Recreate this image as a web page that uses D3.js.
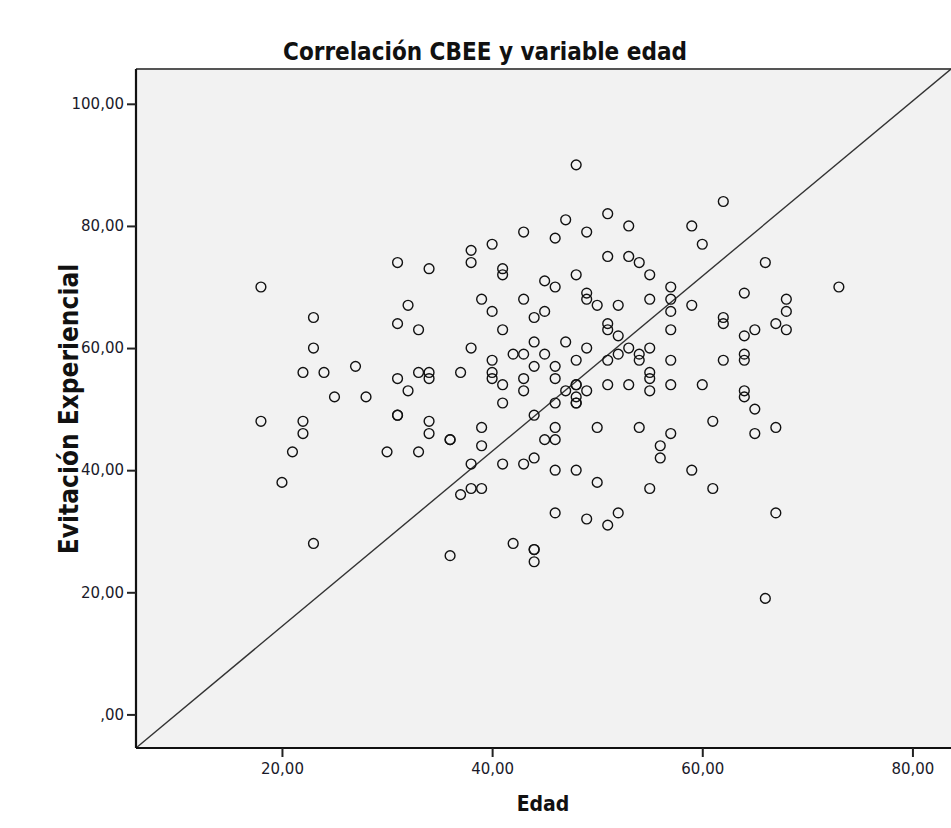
<!DOCTYPE html>
<html>
<head>
<meta charset="utf-8">
<script src="https://cdn.jsdelivr.net/npm/d3@7"></script>
<style>
  body { margin: 0; background: #fff; }
  .tick text { font-family: "DejaVu Sans", sans-serif; font-size: 15px; fill: #1a1a2a; }
  .lbl { font-family: "DejaVu Sans Condensed", "Liberation Sans Narrow", "DejaVu Sans", sans-serif; font-weight: bold; fill: #111; }
</style>
</head>
<body>
<svg id="chart"></svg>
<script>
// Edad (x) and Evitación Experiencial (y), one entry per respondent
var edad = [
  18, 23, 23, 22, 24, 27, 25, 28, 18, 22, 22, 31, 34, 32, 31, 33, 38, 38, 40, 41,
  41, 43, 45, 39, 40, 43, 44, 45, 41, 38, 44, 42, 43, 45, 40, 40, 40, 37, 44, 43,
  43, 41, 41, 33, 34, 34, 31, 32, 31, 31, 34, 34, 36, 36, 39, 39, 44, 45, 21, 30,
  33, 20, 23, 38, 41, 43, 44, 37, 38, 39, 36, 42, 44, 44, 44,
  48, 62, 51, 47, 53, 59, 46, 49, 60, 51, 53, 54, 55, 66, 48, 46, 57, 73, 49, 49,
  50, 52, 55, 57, 57, 59, 64, 68, 68, 62, 62, 67, 68, 65, 64, 51, 51, 52, 57, 47,
  49, 53, 55, 52, 54, 54, 46, 46, 48, 51, 57, 62, 64, 64, 48, 48, 47, 49, 48, 48,
  48, 51, 53, 55, 55, 55, 57, 60, 46, 46, 46, 50, 54, 57, 56, 61, 64, 64, 65, 65,
  67, 56, 46, 48, 50, 55, 59, 61, 46, 49, 51, 52, 67, 66
];
var evitacion = [
  70, 65, 60, 56, 56, 57, 52, 52, 48, 48, 46, 74, 73, 67, 64, 63, 76, 74, 77, 73,
  72, 79, 71, 68, 66, 68, 65, 66, 63, 60, 61, 59, 59, 59, 58, 56, 55, 56, 57, 55,
  53, 54, 51, 56, 56, 55, 55, 53, 49, 49, 48, 46, 45, 45, 47, 44, 49, 45, 43, 43,
  43, 38, 28, 41, 41, 41, 42, 36, 37, 37, 26, 28, 27, 27, 25,
  90, 84, 82, 81, 80, 80, 78, 79, 77, 75, 75, 74, 72, 74, 72, 70, 70, 70, 69, 68,
  67, 67, 68, 68, 66, 67, 69, 68, 66, 65, 64, 64, 63, 63, 62, 64, 63, 62, 63, 61,
  60, 60, 60, 59, 59, 58, 57, 55, 58, 58, 58, 58, 59, 58, 54, 54, 53, 53, 52, 51,
  51, 54, 54, 56, 55, 53, 54, 54, 51, 47, 45, 47, 47, 46, 44, 48, 53, 52, 50, 46,
  47, 42, 40, 40, 38, 37, 40, 37, 33, 32, 31, 33, 33, 19
];
var xTicks = [20, 40, 60, 80];
var yTicks = [0, 20, 40, 60, 80, 100];
var titulo = "Correlación CBEE y variable edad";
var xTitulo = "Edad";
var yTitulo = "Evitación Experiencial";

var width = 951, height = 828;
var mLeft = 136, mRight = 951, mTop = 69, mBottom = 748;

var svg = d3.select("#chart").attr("width", width).attr("height", height);

var x = d3.scaleLinear().domain([6.11, 83.67]).range([mLeft, mRight]);
var y = d3.scaleLinear().domain([-5.5, 105.7]).range([mBottom, mTop]);

// comma decimals, zero written as ",00" like SPSS does
function coma(v) {
  var s = v.toFixed(2).replace(".", ",");
  return v === 0 ? s.slice(1) : s;
}

// plot background
svg.append("rect")
  .attr("x", mLeft).attr("y", mTop)
  .attr("width", mRight - mLeft).attr("height", mBottom - mTop)
  .attr("fill", "#f2f2f2");

// top border
svg.append("line")
  .attr("x1", mLeft).attr("x2", mRight)
  .attr("y1", mTop).attr("y2", mTop)
  .attr("stroke", "#555").attr("stroke-width", 2);

// reference diagonal, corner to corner
var diag = [[x.domain()[0], y.domain()[0]], [x.domain()[1], y.domain()[1]]];
svg.append("path")
  .datum(diag)
  .attr("fill", "none")
  .attr("stroke", "#333")
  .attr("stroke-width", 1.4)
  .attr("d", d3.line().x(function (d) { return x(d[0]); }).y(function (d) { return y(d[1]); }));

// points
var puntos = edad.map(function (e, i) { return { x: e, y: evitacion[i] }; });
svg.append("g")
  .selectAll("circle")
  .data(puntos)
  .join("circle")
  .attr("cx", function (d) { return x(d.x); })
  .attr("cy", function (d) { return y(d.y); })
  .attr("r", 4.9)
  .attr("fill", "none")
  .attr("stroke", "#111")
  .attr("stroke-width", 1.4);

// axes
var xAxis = svg.append("g")
  .attr("transform", "translate(0," + mBottom + ")")
  .call(d3.axisBottom(x).tickValues(xTicks).tickFormat(coma).tickSize(9).tickPadding(6));
var yAxis = svg.append("g")
  .attr("transform", "translate(" + mLeft + ",0)")
  .call(d3.axisLeft(y).tickValues(yTicks).tickFormat(coma).tickSize(9).tickPadding(3));

[xAxis, yAxis].forEach(function (a) {
  a.select(".domain").attr("stroke", "#111").attr("stroke-width", 2.2);
  a.selectAll(".tick line").attr("stroke", "#222").attr("stroke-width", 2);
});
yAxis.select(".domain").attr("d", "M0," + mTop + "V" + mBottom);
xAxis.select(".domain").attr("d", "M" + mLeft + ",0H" + mRight);

// titles
svg.append("text")
  .attr("class", "lbl")
  .attr("x", 485).attr("y", 60)
  .attr("text-anchor", "middle")
  .style("font-size", "24px")
  .text(titulo);

svg.append("text")
  .attr("class", "lbl")
  .attr("x", 543).attr("y", 811)
  .attr("text-anchor", "middle")
  .style("font-size", "21px")
  .text(xTitulo);

svg.append("text")
  .attr("class", "lbl")
  .attr("transform", "translate(78,409) rotate(-90)")
  .attr("text-anchor", "middle")
  .style("font-size", "26px")
  .text(yTitulo);
</script>
</body>
</html>
